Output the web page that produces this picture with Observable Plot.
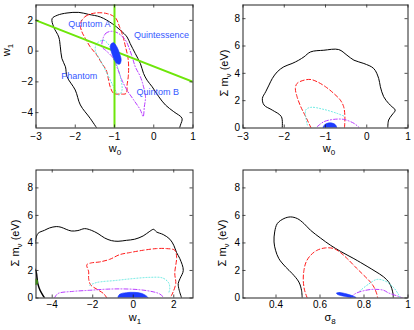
<!DOCTYPE html>
<html><head><meta charset="utf-8">
<script src="https://cdn.jsdelivr.net/npm/d3@7"></script>
<script src="https://cdn.jsdelivr.net/npm/@observablehq/plot@0.6"></script>
<style>
body{margin:0;background:#fff;}
#chart{position:relative;width:414px;height:330px;font-family:"Liberation Sans",Arial,sans-serif;}
#chart svg{position:absolute;}
</style></head><body><div id="chart"></div>
<script>
// ---------- Panel 1: w0 vs w1 ----------
const p1XTicks = [-3, -2, -1, 0, 1];
const p1YTicks = [-4, -2, 0, 2];
const p1Black = [[-1.40,-5.2],[-1.62,-4.37],[-1.87,-3.50],[-2.00,-2.53],[-2.21,-1.66],[-2.25,-1.02],[-2.34,-0.48],[-2.38,0.28],[-2.42,0.92],[-2.55,1.57],[-2.59,2.11],[-2.46,2.33],[-2.21,2.48],[-1.91,2.52],[-1.66,2.39],[-1.36,2.22],[-1.06,1.79],[-0.85,1.36],[-0.68,0.92],[-0.60,0.49],[-0.47,-0.16],[-0.34,-0.81],[-0.26,-1.45],[-0.17,-1.89],[-0.04,-2.32],[0.13,-2.97],[0.30,-3.51],[0.51,-3.94],[0.72,-4.37],[0.68,-4.81],[0.63,-5.2]];
const p1Red = [[-1.87,1.79],[-1.74,2.26],[-1.49,2.48],[-1.19,2.44],[-0.98,2.18],[-0.87,1.57],[-0.78,0.92],[-0.72,0.28],[-0.66,-0.37],[-0.64,-1.02],[-0.65,-1.67],[-0.68,-2.21],[-0.70,-2.75],[-0.85,-2.79],[-1.02,-2.75],[-1.11,-2.32],[-1.15,-1.89],[-1.21,-1.24],[-1.32,-0.81],[-1.45,-0.26],[-1.62,0.28],[-1.74,0.82],[-1.83,1.25]];
const p1Cyan = [[-1.45,0.49],[-1.28,0.71],[-1.11,0.28],[-0.98,-0.59],[-0.85,-1.67],[-0.81,-2.54],[-0.89,-2.86],[-1.02,-2.32],[-1.19,-1.45],[-1.36,-0.59],[-1.49,0.06]];
const p1Purple = [[-1.32,0.28],[-1.23,1.14],[-1.06,1.29],[-0.89,1.14],[-0.72,0.71],[-0.64,0.28],[-0.55,-0.37],[-0.47,-1.02],[-0.34,-1.67],[-0.26,-2.32],[-0.21,-2.97],[-0.24,-3.62],[-0.27,-4.26],[-0.34,-3.83],[-0.51,-3.18],[-0.68,-2.54],[-0.81,-1.89],[-0.94,-1.02],[-1.06,-0.37],[-1.23,0.06]];
const p1Blue = [[-1.08,0.49],[-1.02,0.54],[-0.94,0.28],[-0.87,-0.16],[-0.83,-0.59],[-0.87,-0.85],[-0.94,-0.81],[-1.02,-0.48],[-1.08,-0.05],[-1.11,0.28]];
const p1VerticalW0 = [-1];           // w0 = -1
const p1DiagonalSum = -1;            // w0 + w1 = -1
const p1LabelText = ["Quintom A", "Quintessence", "Phantom", "Quintom B"];
const p1LabelW0 = [-1.64, 0.2, -1.9, 0.1];
const p1LabelW1 = [1.75, 1.03, -1.63, -2.64];

// ---------- Panel 2: w0 vs sum m_nu ----------
const p2XTicks = [-3, -2, -1, 0, 1];
const p2YTicks = [0, 2, 4, 6, 8];
const p2Black = [[-2.05,0],[-2.07,0.83],[-2.29,1.31],[-2.49,1.68],[-2.53,2.16],[-2.45,2.65],[-2.37,3.14],[-2.29,3.62],[-2.17,4.11],[-2.01,4.48],[-1.81,4.72],[-1.65,4.96],[-1.52,5.21],[-1.36,5.57],[-1.04,5.69],[-0.68,5.74],[-0.48,5.33],[-0.31,4.96],[-0.07,4.72],[0.17,4.35],[0.29,3.62],[0.33,3.02],[0.41,2.29],[0.53,1.80],[0.61,1.56],[0.69,1.31],[0.61,0.95],[0.53,0.58],[0.51,0]];
const p2Red = [[-1.35,0],[-1.48,0.83],[-1.60,1.56],[-1.69,2.29],[-1.73,2.89],[-1.69,3.26],[-1.52,3.50],[-1.36,3.55],[-1.20,3.38],[-1.00,3.02],[-0.80,2.53],[-0.64,2.04],[-0.56,1.56],[-0.53,0.83],[-0.54,0]];
const p2Cyan = [[-1.44,0.22],[-1.48,1.31],[-1.36,1.51],[-1.04,1.36],[-0.72,1.07],[-0.56,0.88]];
const p2Purple = [[-1.20,0.10],[-1.04,0.46],[-0.80,0.63],[-0.56,0.63],[-0.31,0.34],[-0.19,0.05]];
const p2Blue = [[-1.06,0],[-1.02,0.24],[-0.94,0.36],[-0.84,0.36],[-0.76,0.24],[-0.73,0]];

// ---------- Panel 3: w1 vs sum m_nu ----------
const p3XTicks = [-4, -2, 0, 2];
const p3YTicks = [0, 2, 4, 6, 8];
const p3Black = [[-4.85,3.95],[-4.71,4.68],[-4.38,4.92],[-4.13,5.09],[-3.80,5.19],[-3.56,5.14],[-3.31,4.99],[-3.06,4.87],[-2.73,4.90],[-2.40,5.04],[-2.07,4.92],[-1.74,4.68],[-1.41,4.36],[-1.08,4.17],[-0.75,4.12],[-0.34,4.19],[0.07,4.27],[0.49,4.51],[0.82,4.85],[1.01,4.99],[1.15,4.80],[1.48,4.61],[1.81,4.27],[2.00,3.83],[2.14,3.30],[2.30,2.86],[2.47,2.01],[2.31,1.41],[2.22,1.05],[2.27,0.56],[2.39,0]];
const p3BlackCorner = [[-4.85,2.1],[-4.79,1.89],[-4.71,1.04],[-4.6,0.56],[-4.41,0.08],[-4.38,0]];
const p3Green = [[-4.82,1.4],[-4.75,1.3],[-4.74,1.05],[-4.82,0.95]];
const p3Red = [[-1.3,0],[-1.45,0.3],[-1.75,0.6],[-2.1,0.95],[-2.2,1.4],[-2.2,1.9],[-2.29,2.42],[-2.07,2.55],[-1.66,2.62],[-1.16,2.81],[-0.67,3.15],[-0.17,3.30],[0.49,3.47],[1.15,3.59],[1.64,3.59],[2.05,3.47],[2.14,2.98],[2.05,1.79],[2.10,1.07],[1.97,0.44],[1.89,0.19],[1.82,0]];
const p3Cyan = [[-2.15,0.92],[-1.82,1.12],[-0.83,1.28],[-0.01,1.41],[0.82,1.5],[1.46,1.45],[1.75,1.1],[1.8,0.7],[1.75,0.35]];
const p3Purple = [[-3.89,0],[-3.72,0.32],[-2.98,0.48],[-2.15,0.56],[-1.33,0.64],[-0.50,0.66],[0.32,0.6],[0.98,0.45],[1.3,0.3],[1.5,0.05]];
const p3Blue = [[-0.75,0],[-0.67,0.27],[-0.34,0.39],[0.07,0.41],[0.40,0.34],[0.65,0.15],[0.73,0]];

// ---------- Panel 4: sigma8 vs sum m_nu ----------
const p4XTicks = [0.4, 0.6, 0.8, 1];
const p4YTicks = [0, 2, 4, 6, 8];
const p4Black = [[0.519,0],[0.516,0.56],[0.504,1.16],[0.474,1.77],[0.444,2.25],[0.413,2.86],[0.398,3.47],[0.391,4.07],[0.394,4.80],[0.406,5.41],[0.436,5.77],[0.466,5.89],[0.497,5.77],[0.527,5.41],[0.557,4.92],[0.602,4.36],[0.648,3.83],[0.693,3.39],[0.754,2.86],[0.814,2.3],[0.85,1.95],[0.888,1.55],[0.915,1.1],[0.926,0.7],[0.932,0.3],[0.933,0]];
const p4Red = [[0.542,0],[0.530,0.56],[0.524,1.28],[0.527,2.01],[0.537,2.62],[0.557,3.10],[0.587,3.47],[0.625,3.64],[0.663,3.59],[0.693,3.30],[0.724,2.86],[0.761,2.25],[0.799,1.65],[0.829,1.16],[0.845,0.8],[0.858,0.3],[0.862,0]];
const p4Cyan = [[0.78,0.5],[0.82,1.0],[0.86,1.35],[0.9,1.2],[0.935,0.75],[0.955,0.3],[0.965,0]];
const p4Purple = [[0.737,0],[0.761,0.32],[0.799,0.53],[0.845,0.63],[0.890,0.56],[0.91,0.38],[0.956,0.12],[0.977,0]];
const p4Blue = [[0.675,0.36],[0.69,0.40],[0.72,0.3],[0.75,0.15],[0.765,0.02],[0.745,0.01],[0.71,0.12],[0.68,0.26]];

// ---------- styles ----------
const FONT = "Liberation Sans, Arial, Helvetica, sans-serif";
const XY = {x: d => d[0], y: d => d[1], clip: true};
const sBlack = {...XY, stroke: "#000", strokeWidth: 1, curve: "catmull-rom"};
const sRed = {...XY, stroke: "#ff1a1a", strokeWidth: 1, strokeDasharray: "4,2.5", curve: "catmull-rom"};
const sCyan = {...XY, stroke: "#5fe8e0", strokeWidth: 1, strokeDasharray: "1,2", curve: "catmull-rom"};
const sPurple = {...XY, stroke: "#b93cff", strokeWidth: 1, strokeDasharray: "4,2,1,2", curve: "catmull-rom"};
const sBlue = {...XY, fill: "#1d3cff", stroke: "#1d3cff", strokeWidth: 0.6, curve: "catmull-rom-closed"};
const closed = s => ({...s, curve: "catmull-rom-closed"});
const fmt = d3.format("");

function panel({left, top, mr, mb, tickPad, xDomain, yDomain, xTicks, yTicks, marks, xLabel, yLabel}) {
  const W = 207, H = 165, ml = 35.5, mt = 4.5;
  const iw = W - ml - mr, ih = H - mt - mb;
  const svg = Plot.plot({
    width: W, height: H,
    marginLeft: ml, marginRight: mr, marginTop: mt, marginBottom: mb,
    style: {fontFamily: FONT, fontSize: "10px", background: "transparent", color: "#000"},
    x: {domain: xDomain, ticks: xTicks, tickSize: 0, tickPadding: tickPad, tickFormat: fmt, label: null},
    y: {domain: yDomain, ticks: yTicks, tickSize: 0, tickPadding: 3, tickFormat: fmt, label: null},
    marks: [
      ...marks,
      Plot.tickX(xTicks, {x: d => d, insetTop: ih - 3, stroke: "#222", strokeWidth: 0.8}),
      Plot.tickX(xTicks, {x: d => d, insetBottom: ih - 3, stroke: "#222", strokeWidth: 0.8}),
      Plot.tickY(yTicks, {y: d => d, insetRight: iw - 3, stroke: "#222", strokeWidth: 0.8}),
      Plot.tickY(yTicks, {y: d => d, insetLeft: iw - 3, stroke: "#222", strokeWidth: 0.8}),
      Plot.frame({stroke: "#222", strokeWidth: 1})
    ]
  });
  svg.style.left = left + "px";
  svg.style.top = top + "px";
  const s = d3.select(svg);
  // x label
  const xt = s.append("text").attr("x", xLabel.x).attr("y", xLabel.y)
    .attr("text-anchor", "middle").attr("font-family", FONT).attr("font-size", 11).attr("fill", "#000");
  xt.append("tspan").text(xLabel.main);
  xt.append("tspan").attr("dy", 3).attr("font-size", 8).text(xLabel.sub);
  // y label (rotated)
  const yt = s.append("text").attr("transform", `translate(${yLabel.x},${yLabel.y}) rotate(-90)`)
    .attr("text-anchor", "middle").attr("font-family", FONT).attr("font-size", 11).attr("fill", "#000");
  yt.append("tspan").text(yLabel.main);
  yt.append("tspan").attr("dy", 3).attr("font-size", 8).text(yLabel.sub);
  if (yLabel.tail) yt.append("tspan").attr("dy", -3).text(yLabel.tail);
  document.getElementById("chart").appendChild(svg);
}

// Panel 1
panel({
  left: 0, top: 0, mr: 14.5, mb: 37.5, tickPad: 5,
  xDomain: [-3, 1], yDomain: [-5, 3], xTicks: p1XTicks, yTicks: p1YTicks,
  xLabel: {x: 115, y: 152, main: "w", sub: "0"},
  yLabel: {x: 10, y: 50, main: "w", sub: "1"},
  marks: [
    Plot.line(p1Black, sBlack),
    Plot.line(p1Red, closed(sRed)),
    Plot.line(p1Cyan, closed(sCyan)),
    Plot.line(p1Purple, closed(sPurple)),
    Plot.ruleX(p1VerticalW0, {x: d => d, stroke: "#6ee60a", strokeWidth: 2}),
    Plot.line([-3, 1], {x: d => d, y: d => p1DiagonalSum - d, stroke: "#6ee60a", strokeWidth: 2, clip: true}),
    Plot.line(p1Blue, sBlue),
    Plot.text(p1LabelText, {x: (d, i) => p1LabelW0[i], y: (d, i) => p1LabelW1[i], text: d => d,
      fill: "#3558ff", fontSize: 9, fontFamily: FONT})
  ]
});

// Panel 2
panel({
  left: 207, top: 0, mr: 6.5, mb: 37.5, tickPad: 5,
  xDomain: [-3, 1], yDomain: [0, 9], xTicks: p2XTicks, yTicks: p2YTicks,
  xLabel: {x: 122, y: 152, main: "w", sub: "0"},
  yLabel: {x: 21, y: 73, main: "Σ m", sub: "ν", tail: " (eV)"},
  marks: [
    Plot.line(p2Black, sBlack),
    Plot.line(p2Red, sRed),
    Plot.line(p2Cyan, sCyan),
    Plot.line(p2Purple, sPurple),
    Plot.line(p2Blue, sBlue)
  ]
});

// Panel 3
panel({
  left: 0, top: 165, mr: 14.5, mb: 32.5, tickPad: 3,
  xDomain: [-4.8, 2.95], yDomain: [0, 9.3], xTicks: p3XTicks, yTicks: p3YTicks,
  xLabel: {x: 135, y: 156, main: "w", sub: "1"},
  yLabel: {x: 19, y: 78, main: "Σ m", sub: "ν", tail: " (eV)"},
  marks: [
    Plot.line(p3Black, sBlack),
    Plot.line(p3BlackCorner, {...sBlack, strokeWidth: 1.5}),
    Plot.line(p3Green, {...sBlue, fill: "#5ee01a", stroke: "#5ee01a"}),
    Plot.line(p3Red, sRed),
    Plot.line(p3Cyan, sCyan),
    Plot.line(p3Purple, sPurple),
    Plot.line(p3Blue, sBlue)
  ]
});

// Panel 4
panel({
  left: 207, top: 165, mr: 6.5, mb: 32.5, tickPad: 3,
  xDomain: [0.25, 1], yDomain: [0, 9.3], xTicks: p4XTicks, yTicks: p4YTicks,
  xLabel: {x: 123, y: 156, main: "σ", sub: "8"},
  yLabel: {x: 19, y: 78, main: "Σ m", sub: "ν", tail: " (eV)"},
  marks: [
    Plot.line(p4Black, sBlack),
    Plot.line(p4Red, sRed),
    Plot.line(p4Cyan, sCyan),
    Plot.line(p4Purple, sPurple),
    Plot.line(p4Blue, sBlue)
  ]
});
</script></body></html>
